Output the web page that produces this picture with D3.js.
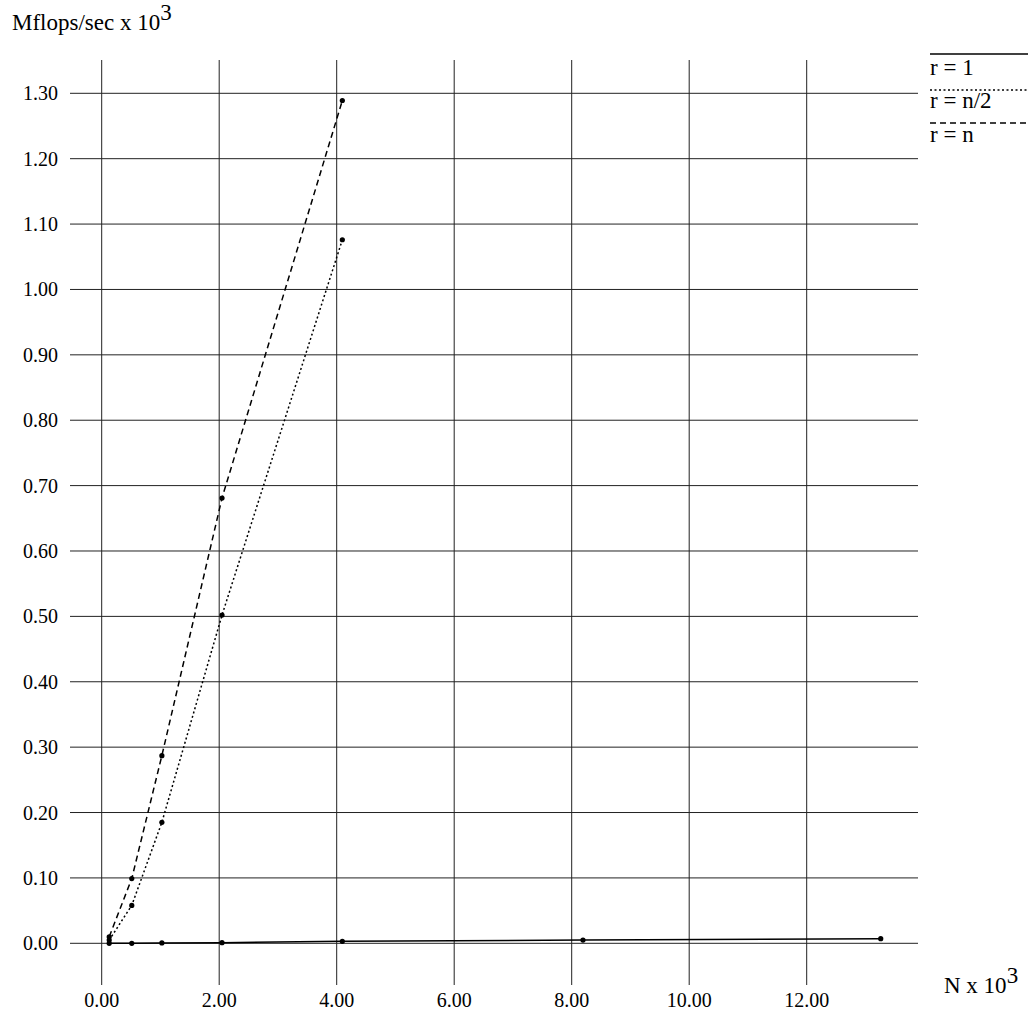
<!DOCTYPE html>
<meta charset="utf-8" />
<style>
  body {
    margin: 0;
    background: #fff;
  }
  text {
    font-family: "Liberation Serif", "Times New Roman", serif;
    font-size: 20px;
    fill: #000;
  }
  .title,
  .legend {
    font-size: 23px;
  }
  .grid line {
    stroke: #222;
    stroke-width: 1;
  }
</style>
<body>
  <div class="container"></div>
  <script src="https://d3js.org/d3.v7.min.js"></script>
  <script>
    // tick values
    var xTicks = [0, 2, 4, 6, 8, 10, 12];
    var yTicks = [0, 0.1, 0.2, 0.3, 0.4, 0.5, 0.6, 0.7, 0.8, 0.9, 1.0, 1.1, 1.2, 1.3];

    // N x 10^3 for each run
    var nShort = [0.128, 0.512, 1.024, 2.048, 4.096];
    var nLong = [0.128, 0.512, 1.024, 2.048, 4.096, 8.192, 13.26];

    // Mflops/sec x 10^3
    var rOne = [0.0, 0.0, 0.0005, 0.001, 0.003, 0.005, 0.007];
    var rHalf = [0.005, 0.058, 0.185, 0.502, 1.076];
    var rN = [0.01, 0.099, 0.287, 0.681, 1.289];

    var legendLabels = ["r = 1", "r = n/2", "r = n"];

    var width = 1028,
      height = 1030;

    var svg = d3
      .select(".container")
      .append("svg")
      .attr("width", width)
      .attr("height", height);

    var x = d3.scaleLinear().domain([0, 12]).range([101.7, 806.7]);
    var y = d3.scaleLinear().domain([0, 1.3]).range([943.3, 93.3]);

    // grid
    var grid = svg.append("g").attr("class", "grid");
    grid
      .selectAll(".vline")
      .data(xTicks)
      .enter()
      .append("line")
      .attr("x1", (d) => x(d))
      .attr("x2", (d) => x(d))
      .attr("y1", 60)
      .attr("y2", 985);
    grid
      .selectAll(".hline")
      .data(yTicks)
      .enter()
      .append("line")
      .attr("x1", 70)
      .attr("x2", 918)
      .attr("y1", (d) => y(d))
      .attr("y2", (d) => y(d));

    // tick labels
    svg
      .selectAll(".xlab")
      .data(xTicks)
      .enter()
      .append("text")
      .attr("x", (d) => x(d))
      .attr("y", 1007)
      .attr("text-anchor", "middle")
      .text((d) => d3.format(".2f")(d));

    svg
      .selectAll(".ylab")
      .data(yTicks)
      .enter()
      .append("text")
      .attr("x", 58)
      .attr("y", (d) => y(d) + 7)
      .attr("text-anchor", "end")
      .text((d) => d3.format(".2f")(d));

    // axis titles
    var yt = svg.append("text").attr("class", "title").attr("x", 12).attr("y", 30);
    yt.append("tspan").text("Mflops/sec x 10");
    yt.append("tspan").attr("dy", -10).text("3");

    var xt = svg.append("text").attr("class", "title").attr("x", 944).attr("y", 993);
    xt.append("tspan").text("N x 10");
    xt.append("tspan").attr("dy", -10).text("3");

    // series
    var series = [
      { xs: nLong, ys: rOne, dash: null },
      { xs: nShort, ys: rHalf, dash: "2,2.5" },
      { xs: nShort, ys: rN, dash: "6,4" },
    ];

    var line = d3
      .line()
      .x((d) => x(d[0]))
      .y((d) => y(d[1]));

    series.forEach(function (s) {
      var pts = s.xs.map((v, i) => [v, s.ys[i]]);
      svg
        .append("path")
        .datum(pts)
        .attr("d", line)
        .attr("fill", "none")
        .attr("stroke", "#000")
        .attr("stroke-width", 1.5)
        .attr("stroke-dasharray", s.dash);
      svg
        .selectAll(null)
        .data(pts)
        .enter()
        .append("circle")
        .attr("cx", (d) => x(d[0]))
        .attr("cy", (d) => y(d[1]))
        .attr("r", 2.6)
        .attr("fill", "#000");
    });

    // legend
    var legendY = [54, 90, 123];
    var legendTextY = [75, 108, 142];
    legendLabels.forEach(function (lab, i) {
      svg
        .append("line")
        .attr("x1", 930)
        .attr("x2", 1028)
        .attr("y1", legendY[i])
        .attr("y2", legendY[i])
        .attr("stroke", "#000")
        .attr("stroke-width", 1.5)
        .attr("stroke-dasharray", series[i].dash);
      svg
        .append("text")
        .attr("class", "legend")
        .attr("x", 930)
        .attr("y", legendTextY[i])
        .text(lab);
    });
  </script>
</body>
